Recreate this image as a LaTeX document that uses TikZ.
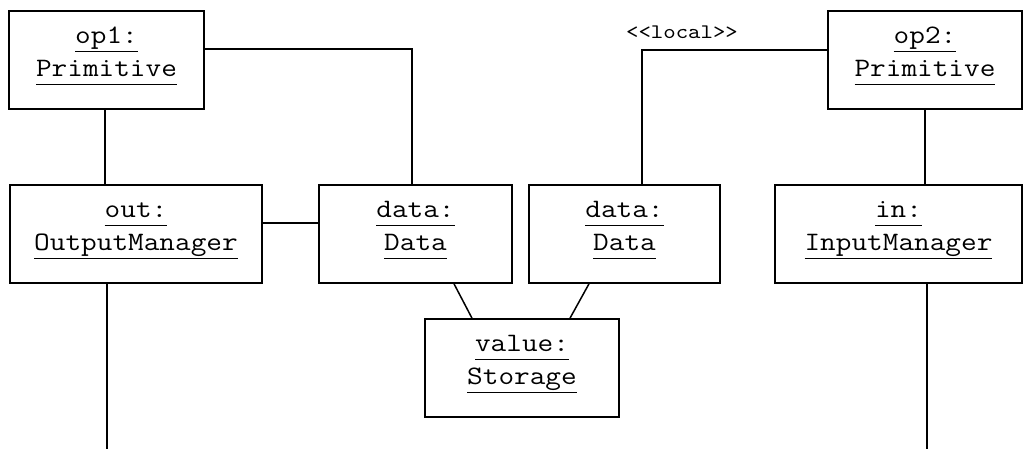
\documentclass[tikz,border=0pt]{standalone}
\usepackage{fontspec}
% typewriter face widened to Courier-like proportions
\newfontfamily\umltt[FakeStretch=1.143]{Latin Modern Mono}
% underlined object name; line height and underline depth are equal so
% the two-line label sits centred between its baselines
\newcommand\objname[1]{\setbox0\hbox{#1}%
  \rule{0pt}{4.4pt}\rlap{\rule[-4.4pt]{\wd0}{0.8pt}}\smash{\box0}}
\newcommand\objtxt[2]{\objname{#1}\\\objname{#2}}
\tikzset{
  obj/.style={draw, line width=0.8pt, rectangle, inner sep=0pt,
    minimum height=49pt, align=center,
    font=\umltt\fontsize{13.3}{16.5}\selectfont},
  link/.style={line width=0.75pt},
  stereo/.style={font=\umltt\fontsize{10.35}{12}\selectfont, inner sep=0pt}
}
\begin{document}
\begin{tikzpicture}[x=0.5pt,y=-0.5pt]
\useasboundingbox (0,0) rectangle (1030,449);

% objects
\node[obj, minimum width=97.5pt] (op1)   at (106.5,60)  {\objtxt{op1:}{Primitive}};
\node[obj, minimum width=97pt]   (op2)   at (925,60)    {\objtxt{op2:}{Primitive}};
\node[obj, minimum width=126pt]  (out)   at (136,234)   {\objtxt{out:}{OutputManager}};
\node[obj, minimum width=96.5pt] (dataA) at (415.5,234) {\objtxt{data:}{Data}};
\node[obj, minimum width=95.5pt] (dataB) at (624.5,234) {\objtxt{data:}{Data}};
\node[obj, minimum width=123.5pt](in)    at (898.5,234) {\objtxt{in:}{InputManager}};
\node[obj, minimum width=97pt]   (value) at (522,368)   {\objtxt{value:}{Storage}};

\node[stereo] (local) at (682,32) {<<local>>};

% free ends of the links leaving the picture
\coordinate (outEnd) at (107,449);
\coordinate (inEnd)  at (927,449);

% links
\draw[link] ([xshift=-0.75pt]op1.south) -- ([xshift=-0.75pt]op1.south |- out.north);
\draw[link] ([yshift=5.5pt]op1.east) -| ([xshift=-1.75pt]dataA.north);
\draw[link] ([yshift=5.5pt]out.east) -- ([yshift=5.5pt]dataA.west);
\draw[link] ([xshift=8.75pt]dataB.north) |- ([yshift=5pt]op2.west);
\draw[link] (op2.south) -- (op2.south |- in.north);
\draw[link] ([xshift=19.25pt]dataA.south) -- ([xshift=-25pt]value.north);
\draw[link] ([xshift=-17.75pt]dataB.south) -- ([xshift=24pt]value.north);
\draw[link] (outEnd |- out.south) -- (outEnd);
\draw[link] (inEnd |- in.south) -- (inEnd);
\end{tikzpicture}
\end{document}
